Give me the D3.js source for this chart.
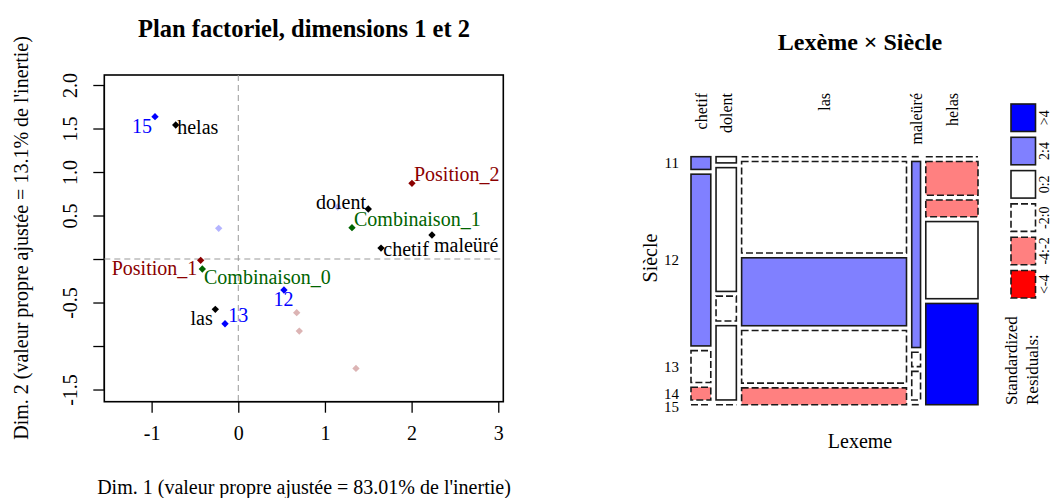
<!DOCTYPE html>
<html>
<head>
<meta charset="utf-8">
<script src="https://cdn.jsdelivr.net/npm/d3@7"></script>
<style>
body { margin: 0; background: #fff; }
text { font-family: "Liberation Serif", "Times New Roman", serif; }
</style>
</head>
<body>
<svg id="chart" width="1052" height="498"></svg>
<script>
// ---- data : correspondence analysis coordinates ----
var lexemes = ["chetif", "dolent", "las", "maleüré", "helas"];
var lexDim1 = [1.647, 1.50, -0.265, 2.235, -0.722];
var lexDim2 = [0.126, 0.575, -0.578, 0.276, 1.54];

var siecles = ["11", "12", "13", "14", "15"];
var siecleDim1 = [1.147, 0.527, -0.153, -0.226, -0.961];
var siecleDim2 = [0.598, -0.356, -0.744, 0.353, 1.636];
var siecleShown = [false, true, true, false, true];

var suppl = ["Position_1", "Position_2", "Combinaison_0", "Combinaison_1"];
var supplDim1 = [-0.434, 2.004, -0.415, 1.312];
var supplDim2 = [-0.015, 0.87, -0.115, 0.36];

// faint supplementary points, no label
var faintDim1 = [0.674, 0.704, 1.358];
var faintDim2 = [-0.617, -0.828, -1.257];

var xTicks = [-1, 0, 1, 2, 3];
var xTickLabels = ["-1", "0", "1", "2", "3"];
var yTicks = [-1.5, -1, -0.5, 0, 0.5, 1, 1.5, 2];
var yTickLabels = ["-1.5", "", "-0.5", "", "0.5", "1.0", "1.5", "2.0"];

// ---- data : contingency table, rows = siècle, columns = lexème ----
var counts = [
  [2, 1, 0, 0, 0],
  [27, 20, 120, 13, 14],
  [5, 4, 89, 1, 7],
  [2, 12, 69, 2, 32],
  [0, 0, 22, 0, 42]
];
var residualBins = [">4", "2:4", "0:2", "-2:0", "-4:-2", "<-4"];

var svg = d3.select("#chart");
svg.append("rect").attr("width", 1052).attr("height", 498).attr("fill", "#fff");

// ================= left : factor map =================
var x = d3.scaleLinear().domain([-1.546, 3.058]).range([104.3, 503.3]);
var y = d3.scaleLinear().domain([-1.64, 2.115]).range([401.7, 75]);

var left = svg.append("g");

left.append("text").attr("x", 304).attr("y", 28).attr("dy", "0.35em")
  .attr("text-anchor", "middle").attr("font-size", 24.5).attr("font-weight", "bold")
  .text("Plan factoriel, dimensions 1 et 2");

// axes
var xAxis = left.append("g").attr("transform", "translate(0," + y.range()[0] + ")")
  .call(d3.axisBottom(x).tickValues(xTicks).tickSize(11).tickPadding(12)
    .tickFormat(function(d, i) { return xTickLabels[i]; }));
var yAxis = left.append("g").attr("transform", "translate(" + x.range()[0] + ",0)")
  .call(d3.axisLeft(y).tickValues(yTicks).tickSize(11)
    .tickFormat(function(d, i) { return yTickLabels[i]; }));
[xAxis, yAxis].forEach(function(a) {
  a.select(".domain").remove();
  a.selectAll("line").attr("stroke", "#000").attr("stroke-width", 1.3);
  a.selectAll("text").attr("font-size", 20).attr("fill", "#000")
    .style("font-family", '"Liberation Serif", "Times New Roman", serif');
});
xAxis.selectAll("text").attr("dy", null).attr("y", 38);
yAxis.selectAll(".tick text")
  .attr("x", null).attr("dy", null)
  .attr("text-anchor", "middle")
  .attr("transform", "translate(-34,0) rotate(-90)")
  .attr("dy", "0.35em");

// axis lines between extreme ticks
left.append("line").attr("x1", x(xTicks[0])).attr("x2", x(xTicks[xTicks.length - 1]))
  .attr("y1", y.range()[0]).attr("y2", y.range()[0]).attr("stroke", "#000").attr("stroke-width", 1.3);
left.append("line").attr("y1", y(yTicks[0])).attr("y2", y(yTicks[yTicks.length - 1]))
  .attr("x1", x.range()[0]).attr("x2", x.range()[0]).attr("stroke", "#000").attr("stroke-width", 1.3);

left.append("rect").attr("x", x.range()[0]).attr("y", y.range()[1])
  .attr("width", x.range()[1] - x.range()[0]).attr("height", y.range()[0] - y.range()[1])
  .attr("fill", "none").attr("stroke", "#000").attr("stroke-width", 1.6);

// axis titles
left.append("text").attr("x", 304).attr("y", 487).attr("dy", "0.35em")
  .attr("text-anchor", "middle").attr("font-size", 20)
  .text("Dim. 1 (valeur propre ajustée = 83.01% de l'inertie)");
left.append("text").attr("transform", "translate(21,238) rotate(-90)").attr("dy", "0.35em")
  .attr("text-anchor", "middle").attr("font-size", 20)
  .text("Dim. 2 (valeur propre ajustée = 13.1% de l'inertie)");

// origin lines
left.append("line").attr("x1", x(0)).attr("x2", x(0)).attr("y1", y.range()[1]).attr("y2", y.range()[0])
  .attr("stroke", "#999").attr("stroke-dasharray", "6,4");
left.append("line").attr("x1", x.range()[0]).attr("x2", x.range()[1]).attr("y1", y(0)).attr("y2", y(0))
  .attr("stroke", "#999").attr("stroke-dasharray", "6,4");

// build point list
var pts = [];
lexemes.forEach(function(n, i) { pts.push({label: n, d1: lexDim1[i], d2: lexDim2[i], col: "#000", show: true}); });
siecles.forEach(function(n, i) {
  pts.push({label: n, d1: siecleDim1[i], d2: siecleDim2[i],
    col: siecleShown[i] ? "#0000ff" : "#b4b4ff", show: siecleShown[i]});
});
suppl.forEach(function(n, i) {
  pts.push({label: n, d1: supplDim1[i], d2: supplDim2[i],
    col: n.indexOf("Position") === 0 ? "#8b0000" : "#006400", show: true});
});
faintDim1.forEach(function(v, i) { pts.push({label: "", d1: v, d2: faintDim2[i], col: "#dcb4b4", show: false}); });

// label placement: anchor, dx, dy (px from the point)
var labelPos = {
  "15": ["end", -3, 9], "helas": ["start", 1.5, 1.7], "Position_1": ["end", -3.4, 8],
  "Combinaison_0": ["start", 1.7, 7.7], "las": ["end", -2.6, 9], "13": ["start", 3.3, -8.7],
  "12": ["middle", -0.5, 9.3], "dolent": ["end", -2.3, -7.3], "Combinaison_1": ["start", 2, -8.7],
  "chetif": ["start", 2.3, 1.3], "maleüré": ["start", 2, 10], "Position_2": ["start", 2, -9]
};

var diamond = d3.symbol().type(d3.symbolSquare).size(27);
left.selectAll("path.pt").data(pts.filter(function(p) { return !p.show; }).concat(pts.filter(function(p) { return p.show; })))
  .enter().append("path").attr("class", "pt")
  .attr("d", diamond)
  .attr("transform", function(p) { return "translate(" + x(p.d1) + "," + y(p.d2) + ") rotate(45)"; })
  .attr("fill", function(p) { return p.col; });

left.selectAll("text.lab").data(pts.filter(function(p) { return p.show; }))
  .enter().append("text").attr("class", "lab")
  .attr("x", function(p) { return x(p.d1) + labelPos[p.label][1]; })
  .attr("y", function(p) { return y(p.d2) + labelPos[p.label][2]; })
  .attr("dy", "0.35em")
  .attr("text-anchor", function(p) { return labelPos[p.label][0]; })
  .attr("font-size", 20)
  .attr("fill", function(p) { return p.col; })
  .text(function(p) { return p.label; });

// ================= right : mosaic =================
var mos = {x0: 691, x1: 978, y0: 156.7, y1: 404.7, gx: 5.25, gy: 4.75};
var N = d3.sum(counts, function(r) { return d3.sum(r); });
var rowTot = counts.map(function(r) { return d3.sum(r); });
var colTot = lexemes.map(function(_, j) { return d3.sum(counts, function(r) { return r[j]; }); });

var wScale = d3.scaleLinear().domain([0, N])
  .range([0, mos.x1 - mos.x0 - mos.gx * (lexemes.length - 1)]);
var hAvail = mos.y1 - mos.y0 - mos.gy * (siecles.length - 1);

function shade(r) {
  if (r > 4) return "#0000ff";
  if (r > 2) return "#8080ff";
  if (r > -2) return "#ffffff";
  if (r > -4) return "#ff8080";
  return "#ff0000";
}

var cells = [];
var cx = mos.x0;
lexemes.forEach(function(lex, j) {
  var w = wScale(colTot[j]);
  var hScale = d3.scaleLinear().domain([0, colTot[j]]).range([0, hAvail]);
  var cy = mos.y0;
  siecles.forEach(function(s, i) {
    var o = counts[i][j];
    var e = rowTot[i] * colTot[j] / N;
    var r = (o - e) / Math.sqrt(e);   // Pearson residual
    var h = hScale(o);
    cells.push({i: i, j: j, x: cx, y: cy, w: w, h: h, r: r, zero: o === 0});
    cy += h + mos.gy;
  });
  cx += w + mos.gx;
});

var right = svg.append("g");
right.selectAll("rect.cell").data(cells.filter(function(c) { return !c.zero; }))
  .enter().append("rect").attr("class", "cell")
  .attr("x", function(c) { return c.x; }).attr("y", function(c) { return c.y; })
  .attr("width", function(c) { return c.w; }).attr("height", function(c) { return c.h; })
  .attr("fill", function(c) { return shade(c.r); })
  .attr("stroke", "#1a1a1a").attr("stroke-width", 1.6)
  .attr("stroke-dasharray", function(c) { return c.r < 0 ? "7,3" : null; });
right.selectAll("line.zero").data(cells.filter(function(c) { return c.zero; }))
  .enter().append("line").attr("class", "zero")
  .attr("x1", function(c) { return c.x; }).attr("x2", function(c) { return c.x + c.w; })
  .attr("y1", function(c) { return c.y; }).attr("y2", function(c) { return c.y; })
  .attr("stroke", "#1a1a1a").attr("stroke-width", 1.6)
  .attr("stroke-dasharray", function(c) { return c.r < 0 ? "7,3" : null; });

// column labels (top)
cells.filter(function(c) { return c.i === 0; }).forEach(function(c) {
  right.append("text")
    .attr("transform", "translate(" + (c.x + c.w / 2) + ",93) rotate(-90)")
    .attr("dy", "0.35em").attr("text-anchor", "end").attr("font-size", 16)
    .text(lexemes[c.j]);
});
// row labels (left, following first column)
cells.filter(function(c) { return c.j === 0; }).forEach(function(c) {
  var yy = c.y + c.h / 2 + (c.zero ? 2.5 : 0);
  right.append("text").attr("x", 679).attr("y", yy).attr("dy", "0.35em")
    .attr("text-anchor", "end").attr("font-size", 15).text(siecles[c.i]);
});

right.append("text").attr("x", 860).attr("y", 42).attr("dy", "0.35em")
  .attr("text-anchor", "middle").attr("font-size", 24).attr("font-weight", "bold")
  .text("Lexème × Siècle");
right.append("text").attr("x", 860).attr("y", 441).attr("dy", "0.35em")
  .attr("text-anchor", "middle").attr("font-size", 20).text("Lexeme");
right.append("text").attr("transform", "translate(650,258) rotate(-90)").attr("dy", "0.35em")
  .attr("text-anchor", "middle").attr("font-size", 20).text("Siècle");

// legend
var legendMid = [5, 3, 1, -1, -3, -5];
var ly = d3.scaleBand().domain(residualBins).range([104, 298]).paddingInner(0.175);
residualBins.forEach(function(b, k) {
  var r = legendMid[k];
  right.append("rect").attr("x", 1011).attr("y", ly(b)).attr("width", 24.5).attr("height", ly.bandwidth())
    .attr("fill", shade(r)).attr("stroke", "#1a1a1a").attr("stroke-width", 1.6)
    .attr("stroke-dasharray", r < 0 ? "7,3" : null);
  right.append("text")
    .attr("transform", "translate(1044.5," + (ly(b) + ly.bandwidth() / 2) + ") rotate(-90)")
    .attr("dy", "0.35em").attr("text-anchor", "middle").attr("font-size", 14).text(b);
});
right.append("text").attr("transform", "translate(1011,405) rotate(-90)").attr("dy", "0.35em")
  .attr("text-anchor", "start").attr("font-size", 17).text("Standardized");
right.append("text").attr("transform", "translate(1032,405) rotate(-90)").attr("dy", "0.35em")
  .attr("text-anchor", "start").attr("font-size", 17).text("Residuals:");
</script>
</body>
</html>
